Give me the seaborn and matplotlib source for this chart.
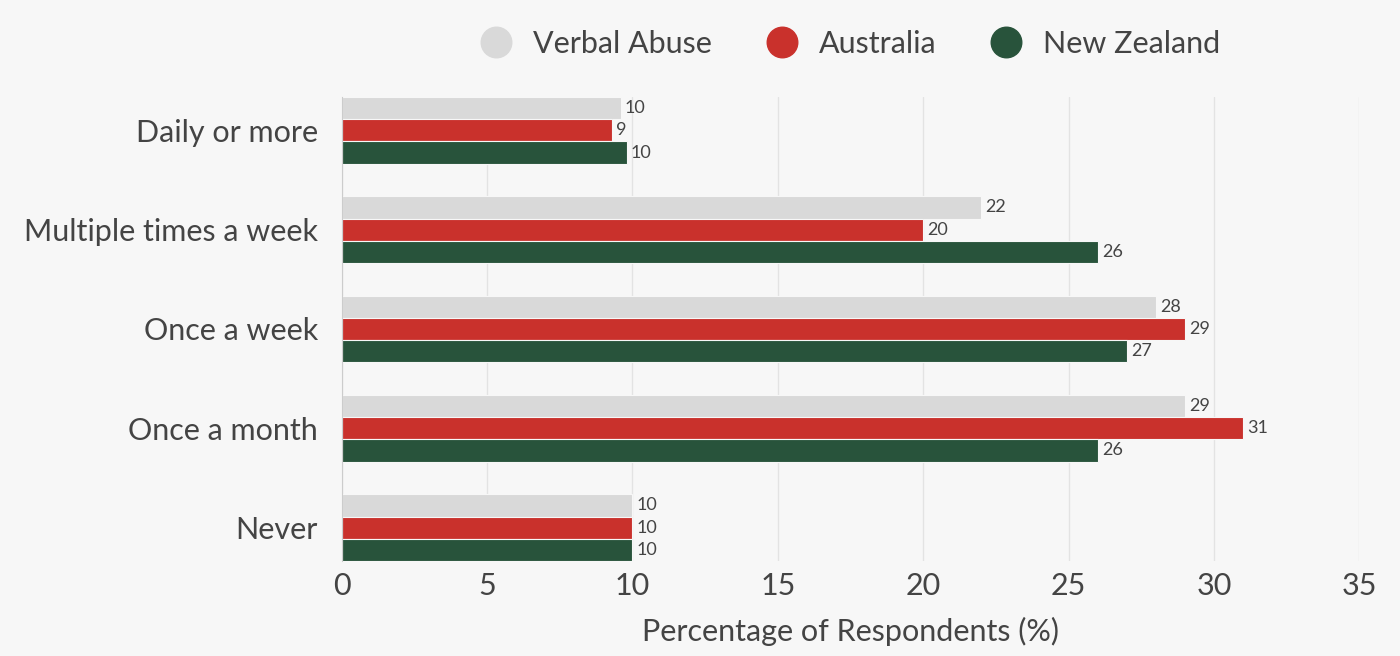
import pandas as pd
import matplotlib.pyplot as plt
import seaborn as sns

# Chart data
categories = ["Daily or more", "Multiple times a week", "Once a week", "Once a month", "Never"]
verbal_abuse = [9.6, 22, 28, 29, 10]
australia = [9.3, 20, 29, 31, 10]
new_zealand = [9.8, 26, 27, 26, 10]
series_names = ["Verbal Abuse", "Australia", "New Zealand"]
colors = ["#d9d9d9", "#c9312c", "#28533b"]

# Long format for seaborn
rows = []
for name, vals in zip(series_names, [verbal_abuse, australia, new_zealand]):
    for cat, v in zip(categories, vals):
        rows.append({"Frequency": cat, "Series": name, "Value": v})
data = pd.DataFrame(rows)

sns.set_style("white")
plt.rcParams["font.family"] = ["Lato", "DejaVu Sans"]
bg = "#f7f7f7"
txt = "#444444"

fig = plt.figure(figsize=(14, 6.56), dpi=100, facecolor=bg)
ax = fig.add_axes([0.244, 0.145, 0.727, 0.707])
ax.set_facecolor(bg)

sns.barplot(data=data, y="Frequency", x="Value", hue="Series", order=categories,
            hue_order=series_names, palette=colors, saturation=1, orient="h",
            width=0.67, edgecolor=bg, linewidth=0.8, ax=ax, legend=False)

for cont in ax.containers:
    ax.bar_label(cont, fmt="{:.0f}", padding=3, fontsize=13, color=txt)

ax.set_xlim(0, 35)
ax.set_ylim(4.335, -0.335)
ax.set_xticks(range(0, 36, 5))
ax.grid(axis="x", color="#e3e3e3", linewidth=1)
ax.set_axisbelow(True)
for s in ["top", "right", "bottom"]:
    ax.spines[s].set_visible(False)
ax.spines["left"].set_color("#cccccc")
ax.tick_params(axis="both", length=0, colors=txt)
ax.tick_params(axis="y", labelsize=22, pad=17)
ax.tick_params(axis="x", labelsize=22, pad=8)
ax.set_ylabel("")
ax.set_xlabel("Percentage of Respondents (%)", fontsize=22, color=txt, labelpad=12)

handles = [plt.Line2D([], [], marker="o", linestyle="", markersize=22, color=c) for c in colors]
fig.legend(handles, series_names, loc="center", bbox_to_anchor=(0.602, 0.933), ncol=3,
           frameon=False, fontsize=22, handletextpad=0.2, columnspacing=1.3,
           labelcolor=txt)

fig.savefig("out.png", dpi=100, facecolor=bg)
